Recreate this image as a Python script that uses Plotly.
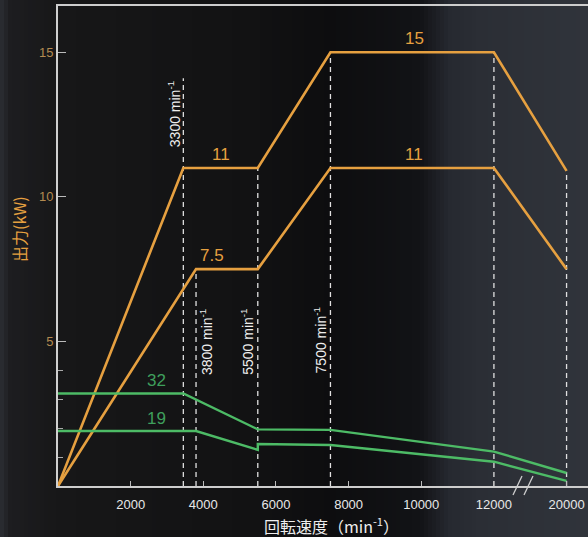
import plotly.graph_objects as go

# ---------------- data ----------------
# power curves (kW) vs spindle speed (min^-1)
rpm_p15 = [0, 3450, 5500, 7500, 12000, 20000]
kw_p15 = [0, 11, 11, 15, 15, 10.9]
rpm_p11 = [0, 3800, 5500, 7500, 12000, 20000]
kw_p11 = [0, 7.5, 7.5, 11, 11, 7.5]

# torque curves (N·m) vs speed
rpm_t32 = [0, 3450, 5500, 7500, 12000, 20000]
nm_t32 = [32, 32, 19.6, 19.4, 11.9, 4.5]
rpm_t19 = [0, 3800, 5500, 5500, 7500, 12000, 20000]
nm_t19 = [19, 19, 12.5, 14.5, 14.2, 8.4, 1.8]

# reference speed lines
vline_rpm = [3450, 3800, 5500, 7500, 12000, 20000]
vline_top = [14.1, 7.5, 11, 15, 15, 10.9]
vline_text = ["3300 min<sup>-1</sup>", "3800 min<sup>-1</sup>",
              "5500 min<sup>-1</sup>", "7500 min<sup>-1</sup>"]

x_ticks = [2000, 4000, 6000, 8000, 10000, 12000, 20000]
y_ticks = [5, 10, 15]
t_ticks = [10, 20, 30, 40]

BREAK = 12000


def bx(v):
    """broken axis: 12000-20000 compressed into one tick step"""
    return v if v <= BREAK else BREAK + (v - BREAK) * 2000 / 8000


def bxl(lst):
    return [bx(v) for v in lst]


ORANGE = "#e6a040"
GREEN = "#4dbb66"
GREEN_TXT = "#3f9f5c"
FONT = "Liberation Sans, Arial, sans-serif"

fig = go.Figure()

# background gradient strips
stops = [(0, (44, 46, 52)), (10, (29, 29, 32)), (58, (23, 23, 24)), (250, (18, 18, 19)),
         (330, (13, 13, 15)), (420, (18, 19, 22)), (450, (38, 41, 48)), (480, (43, 46, 53)),
         (588, (48, 52, 59))]


def col_at(px):
    for (a, ca), (b, cb) in zip(stops[:-1], stops[1:]):
        if a <= px <= b:
            t = (px - a) / (b - a)
            c = [round(ca[i] + (cb[i] - ca[i]) * t) for i in range(3)]
            return "rgb(%d,%d,%d)" % tuple(c)
    return "rgb(48,52,59)"


shapes = []
step = 4
for px in range(0, 588, step):
    shapes.append(dict(type="rect", xref="paper", yref="paper", layer="below",
                       x0=(px - 58) / 530, x1=(px + step + 1 - 58) / 530,
                       y0=-60 / 480, y1=1 + 10 / 480,
                       line=dict(width=0), fillcolor=col_at(px + step / 2)))

# axis break marks
for off in (0, 11):
    shapes.append(dict(type="line", xref="paper", yref="paper", layer="above",
                       x0=(513 + off - 58) / 530, x1=(522 + off - 58) / 530,
                       y0=-9 / 480, y1=10 / 480,
                       line=dict(color="#cfcfcf", width=1.3)))

# dashed reference lines
for r, top in zip(vline_rpm, vline_top):
    fig.add_trace(go.Scatter(x=[bx(r), bx(r)], y=[0, top], mode="lines",
                             line=dict(color="#e0e0e0", width=1.3, dash="5px,4px"),
                             hoverinfo="skip", showlegend=False))

# power curves
fig.add_trace(go.Scatter(x=bxl(rpm_p15), y=kw_p15, mode="lines",
                         line=dict(color=ORANGE, width=2.6), showlegend=False))
fig.add_trace(go.Scatter(x=bxl(rpm_p11), y=kw_p11, mode="lines",
                         line=dict(color=ORANGE, width=2.6), showlegend=False))
# torque curves (secondary scale)
fig.add_trace(go.Scatter(x=bxl(rpm_t32), y=nm_t32, mode="lines", yaxis="y2",
                         line=dict(color=GREEN, width=2.4), showlegend=False))
fig.add_trace(go.Scatter(x=bxl(rpm_t19), y=nm_t19, mode="lines", yaxis="y2",
                         line=dict(color=GREEN, width=2.4), showlegend=False))

ann = []
# curve value labels
ann.append(dict(x=9800, y=15, text="15", yanchor="bottom", yshift=2))
ann.append(dict(x=4500, y=11, text="11", yanchor="bottom", yshift=2))
ann.append(dict(x=9800, y=11, text="11", yanchor="bottom", yshift=2))
ann.append(dict(x=4250, y=7.5, text="7.5", yanchor="bottom", yshift=2))
for a in ann:
    a.update(xref="x", yref="y", showarrow=False, font=dict(color=ORANGE, size=17, family=FONT))
ann.append(dict(x=2720, y=32, yref="y2", xref="x", text="32", yanchor="bottom", yshift=1,
                showarrow=False, font=dict(color=GREEN_TXT, size=17, family=FONT)))
ann.append(dict(x=2720, y=19, yref="y2", xref="x", text="19", yanchor="bottom", yshift=1,
                showarrow=False, font=dict(color=GREEN_TXT, size=17, family=FONT)))

# rotated speed labels
rot_pos = [(vline_rpm[0], 12.87, -9), (vline_rpm[1], 4.98, 10),
           (vline_rpm[2], 4.98, -11), (vline_rpm[3], 5.05, -10)]
for (r, yy, sh), t in zip(rot_pos, vline_text):
    ann.append(dict(x=bx(r), y=yy, xref="x", yref="y", text=t, textangle=-90,
                    xshift=sh, showarrow=False, xanchor="center", yanchor="middle",
                    font=dict(color="#eeeeee", size=14, family=FONT)))

# axis titles
ann.append(dict(x=(19 - 58) / 530, y=(486 - 229) / 480, xref="paper", yref="paper",
                xanchor="center", yanchor="middle",
                text="出力(kW)", textangle=-90, showarrow=False,
                font=dict(color=ORANGE, size=16, family="Noto Sans CJK JP, " + FONT)))
ann.append(dict(x=(331 - 58) / 530, y=(486 - 525) / 480, xref="paper", yref="paper",
                xanchor="center", yanchor="middle",
                text="回転速度（min<sup>-1</sup>）", showarrow=False,
                font=dict(color="#eeeeee", size=16, family="Noto Sans CJK JP, " + FONT)))

fig.update_layout(
    width=588, height=537,
    margin=dict(l=58, r=0, t=6, b=51),
    paper_bgcolor="#161617", plot_bgcolor="rgba(0,0,0,0)",
    shapes=shapes, annotations=ann, showlegend=False,
    font=dict(family=FONT),
    xaxis=dict(range=[0, 14590], showgrid=False, zeroline=False,
               showline=True, linecolor="#cdcdcd", linewidth=2, mirror=True,
               tickvals=bxl(x_ticks), ticktext=[str(v) for v in x_ticks],
               ticks="inside", ticklen=5, tickcolor="#bbbbbb",
               tickfont=dict(color="#e8e8e8", size=13), ticklabelstandoff=5),
    yaxis=dict(range=[0, 16.6], showgrid=False, zeroline=False,
               showline=True, linecolor="#d0d0d0", linewidth=2,
               tickvals=y_ticks, ticks="inside", ticklen=8, tickcolor="#bbbbbb",
               tickfont=dict(color="#b38a50", size=13)),
    yaxis2=dict(range=[0, 166], overlaying="y", side="left", showgrid=False,
                zeroline=False, showline=False, tickvals=t_ticks, ticks="inside",
                ticklen=5, tickcolor="#aaaaaa", showticklabels=False),
)

fig.write_html("out.html", config={"displayModeBar": False},
               post_script="document.body.style.margin='0';document.body.style.overflow='hidden';")
